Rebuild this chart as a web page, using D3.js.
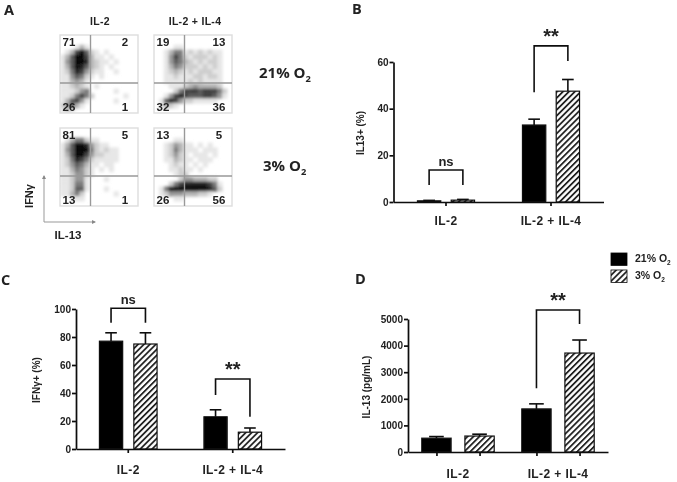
<!DOCTYPE html>
<html>
<head>
<meta charset="utf-8">
<script src="https://cdnjs.cloudflare.com/ajax/libs/d3/7.8.5/d3.min.js"></script>
<style>
html, body { margin: 0; padding: 0; background: #fff; }
svg { display: block; }
text { font-family: "Liberation Sans", Arial, sans-serif; font-weight: bold; fill: #222; }
.big { font-family: "Open Sans", sans-serif; }
</style>
</head>
<body>
<svg id="fig" width="677" height="482"></svg>
<script>
// bar values
var groups = ["IL-2", "IL-2 + IL-4"];
var oxygen = ["21% O2", "3% O2"];
var b_values = [0.5, 0.8, 33, 47.5];
var b_errors = [0.2, 0.3, 2.5, 5];
var b_ticks = [0, 20, 40, 60];
var c_values = [77, 75, 23, 12];
var c_errors = [6, 8, 5, 3];
var c_ticks = [0, 20, 40, 60, 80, 100];
var d_values = [520, 600, 1620, 3720];
var d_errors = [60, 70, 190, 490];
var d_ticks = [0, 1000, 2000, 3000, 4000, 5000];
// brackets: [first bar, second bar, top value, left end value, right end value, label]
var b_brackets = [[0, 1, 13.7, 7.3, 7.3, "ns"], [2, 3, 66.9, 47, 60.4, "**"]];
var c_brackets = [[0, 1, 100.5, 90.2, 90.2, "ns"], [2, 3, 50, 38.5, 23, "**"]];
var d_brackets = [[2, 3, 5340, 2400, 4810, "**"]];

// flow plots: quadrant percentages, then estimated dot density (0-9) on a 16x16 grid
var flow_pct_1 = ["71", "2", "26", "1"];
var flow_pct_2 = ["19", "13", "32", "36"];
var flow_pct_3 = ["81", "5", "13", "1"];
var flow_pct_4 = ["13", "5", "26", "56"];
var flow_1 = [
	"0000000000000000", "0000000000000000", "0001310000000000", "0137962101000000",
	"1369973110100000", "1469983211010000", "1369863210100000", "1258742110010000",
	"1146521010000000", "1134310000000000", "1123210100000000", "1112450000010000",
	"1125752000000100", "1367410000010000", "2463100000000000", "1210000000000000"];
var flow_2 = [
	"0000000000000000", "0000000000000000", "0000110000000000", "0013551212121100",
	"0014752122212100", "0014653212122100", "0013542221212100", "0012321212221100",
	"0011211122122100", "0011111212111100", "0001112343333200", "0000257776777520",
	"0014787666776410", "0168742211111000", "0132100000000000", "0000000000000000"];
var flow_3 = [
	"0000000000000000", "0000000000000000", "0135521100000000", "1369984211000000",
	"1469995212110000", "1369974221110000", "1258752111110000", "1246531101100000",
	"1135421010100000", "1124421000000000", "1124410001000000", "1125510000000000",
	"1126610001000000", "1135200000010000", "0011100000000000", "0000000000000000"];
var flow_4 = [
	"0000000000000000", "0000000000000000", "0000110000000000", "0012431101010000",
	"0012531110111000", "0012421011101000", "0011321101110000", "0001211010100000",
	"0001121101000000", "0000122000000000", "0000024433322000", "0002578888875100",
	"0159999999986200", "0124443332210000", "0000110000000000", "0000000000000000"];

var svg = d3.select("#fig");
var defs = svg.append("defs");

// the source is a soft, resampled scan
defs.append("filter").attr("id", "soft")
	.attr("filterUnits", "userSpaceOnUse").attr("primitiveUnits", "userSpaceOnUse")
	.attr("x", 0).attr("y", 0).attr("width", 677).attr("height", 482)
	.append("feGaussianBlur").attr("stdDeviation", 0.45);
defs.append("filter").attr("id", "dots").append("feGaussianBlur").attr("stdDeviation", 1.5);

var hatch = defs.append("pattern").attr("id", "hatch").attr("patternUnits", "userSpaceOnUse")
	.attr("width", 4.2).attr("height", 4.2).attr("patternTransform", "rotate(45)");
hatch.append("rect").attr("width", 4.2).attr("height", 4.2).attr("fill", "#fff");
hatch.append("rect").attr("width", 1.8).attr("height", 4.2).attr("fill", "#222");

var root = svg.append("g").attr("filter", "url(#soft)");

function add_sub(sel, label, size) {
	var parts = label.split("O2");
	sel.text(parts[0] + "O");
	sel.append("tspan").attr("dy", size * 0.25).attr("font-size", size * 0.62).text("2");
}

function draw_bars(cfg) {
	var g = root.append("g");
	var x = d3.scaleBand().domain(groups).range(cfg.x_range);
	var step = x.step();
	var y = d3.scaleLinear().domain([0, cfg.y_max]).range([cfg.y0, cfg.y_top]);
	var sub = d3.scaleBand().domain(oxygen).range([-cfg.sub, cfg.sub]).padding(cfg.pad);
	var w = sub.bandwidth();
	var bars = [];
	groups.forEach(function(gr, i) {
		oxygen.forEach(function(ox, j) {
			var k = i * 2 + j;
			bars.push({ cx: x(gr) + step / 2 + sub(ox) + w / 2, v: cfg.values[k], e: cfg.errors[k], j: j });
		});
	});

	// error bars go behind the boxes
	var err = g.selectAll(".err").data(bars).enter().append("g");
	err.append("line").attr("x1", function(d) { return d.cx; }).attr("x2", function(d) { return d.cx; })
		.attr("y1", function(d) { return y(d.v); }).attr("y2", function(d) { return y(d.v + d.e); });
	err.append("line").attr("x1", function(d) { return d.cx - w / 4; }).attr("x2", function(d) { return d.cx + w / 4; })
		.attr("y1", function(d) { return y(d.v + d.e); }).attr("y2", function(d) { return y(d.v + d.e); });
	err.selectAll("line").attr("stroke", "#111").attr("stroke-width", 1.6);

	g.selectAll(".bar").data(bars).enter().append("rect")
		.attr("x", function(d) { return d.cx - w / 2; })
		.attr("y", function(d) { return y(d.v); })
		.attr("width", w)
		.attr("height", function(d) { return y(0) - y(d.v); })
		.attr("fill", function(d) { return d.j == 0 ? "#000" : "url(#hatch)"; })
		.attr("stroke", "#111").attr("stroke-width", 1.2);

	// axes
	var ax_y = g.append("g").attr("transform", "translate(" + cfg.x_range[0] + ",0)")
		.call(d3.axisLeft(y).tickValues(cfg.ticks).tickSize(4).tickSizeOuter(0).tickPadding(1).tickFormat(d3.format("d")));
	var ax_x = g.append("g").attr("transform", "translate(0," + cfg.y0 + ")");
	if (cfg.bar_ticks) {
		ax_x.call(d3.axisBottom(d3.scaleIdentity().domain(cfg.x_range).range(cfg.x_range))
			.tickValues(bars.map(function(d) { return d.cx; })).tickSize(4).tickSizeOuter(0).tickFormat(""));
	} else {
		ax_x.call(d3.axisBottom(x).tickSize(4).tickSizeOuter(0).tickFormat(""));
	}
	[ax_y, ax_x].forEach(function(a) {
		a.selectAll("path, line").attr("stroke", "#111").attr("stroke-width", 1.7);
		a.selectAll("text").attr("font-size", 10).attr("font-family", "Liberation Sans").attr("fill", "#222");
	});

	g.selectAll(".cat").data(groups).enter().append("text")
		.attr("x", function(d) { return x(d) + step / 2; })
		.attr("y", cfg.cat_y).attr("text-anchor", "middle").attr("font-size", 12)
		.attr("letter-spacing", 0.4)
		.text(function(d) { return d; });

	g.append("text").attr("transform", "translate(" + cfg.title_x + "," + cfg.title_y + ") rotate(-90)")
		.attr("text-anchor", "middle").attr("font-size", 10).text(cfg.title);

	// significance brackets
	cfg.brackets.forEach(function(br) {
		var x1 = bars[br[0]].cx, x2 = bars[br[1]].cx;
		g.append("path")
			.attr("d", d3.line()([[x1, y(br[3])], [x1, y(br[2])], [x2, y(br[2])], [x2, y(br[4])]]))
			.attr("fill", "none").attr("stroke", "#111").attr("stroke-width", 1.6);
		var star = br[5] == "**";
		g.append("text").attr("x", (x1 + x2) / 2).attr("y", y(br[2]) + (star ? -3 : -4.5))
			.attr("text-anchor", "middle").attr("font-size", star ? 20 : 13)
			.text(br[5]);
	});
}

function draw_flow(x0, y0, grid, pct) {
	var size = 78;
	var g = root.append("g").attr("transform", "translate(" + x0 + "," + y0 + ")");
	var idx = d3.range(16);
	var x = d3.scaleBand().domain(idx).range([0, size]);
	var y = d3.scaleBand().domain(idx).range([0, size]);
	var shade = d3.scaleLinear().domain([0, 3, 9]).range(["#ffffff", "#b4b4b4", "#000000"]);
	var clip_id = "clip" + x0 + "_" + y0;
	defs.append("clipPath").attr("id", clip_id).append("rect").attr("width", size).attr("height", size);

	var cells = [];
	grid.forEach(function(row, r) {
		row.split("").forEach(function(ch, c) {
			if (+ch > 0) cells.push({ r: r, c: c, v: +ch });
		});
	});
	g.append("g").attr("clip-path", "url(#" + clip_id + ")")
		.append("g").attr("filter", "url(#dots)")
		.selectAll("rect").data(cells).enter().append("rect")
		.attr("x", function(d) { return x(d.c); }).attr("y", function(d) { return y(d.r); })
		.attr("width", x.bandwidth() + 0.3).attr("height", y.bandwidth() + 0.3)
		.attr("fill", function(d) { return shade(d.v); });

	g.append("rect").attr("width", size).attr("height", size)
		.attr("fill", "none").attr("stroke", "#ddd").attr("stroke-width", 1.4);
	g.append("line").attr("x1", 30.5).attr("x2", 30.5).attr("y1", 0).attr("y2", size)
		.attr("stroke", "#999").attr("stroke-width", 1.4);
	g.append("line").attr("x1", 0).attr("x2", size).attr("y1", 48).attr("y2", 48)
		.attr("stroke", "#999").attr("stroke-width", 1.4);

	var spots = [[9, 11], [65, 11], [9, 76], [65, 76]];
	pct.forEach(function(p, i) {
		g.append("text").attr("x", spots[i][0]).attr("y", spots[i][1])
			.attr("text-anchor", "middle").attr("font-size", 11.5).attr("fill", "#333").text(p);
	});
}

draw_flow(60, 35, flow_1, flow_pct_1);
draw_flow(154, 35, flow_2, flow_pct_2);
draw_flow(60, 128, flow_3, flow_pct_3);
draw_flow(154, 128, flow_4, flow_pct_4);

draw_bars({ x_range: [393.5, 603.5], y0: 202, y_top: 62, y_max: 60, sub: 39, pad: 0.31,
	values: b_values, errors: b_errors, ticks: b_ticks, brackets: b_brackets,
	title: "IL13+ (%)", title_x: 364, title_y: 133, cat_y: 225 });
draw_bars({ x_range: [76, 285], y0: 449, y_top: 309, y_max: 100, sub: 40, pad: 0.325,
	values: c_values, errors: c_errors, ticks: c_ticks, brackets: c_brackets,
	title: "IFN\u03B3+ (%)", title_x: 40, title_y: 380, cat_y: 474 });
draw_bars({ x_range: [408, 608], y0: 452, y_top: 319, y_max: 5000, sub: 50, pad: 0.32,
	values: d_values, errors: d_errors, ticks: d_ticks, brackets: d_brackets, bar_ticks: true,
	title: "IL-13 (pg/mL)", title_x: 370, title_y: 387, cat_y: 478 });

// panel letters
var letters = [["A", 4, 15], ["B", 352, 14], ["C", 1, 285], ["D", 355, 284]];
root.selectAll(".letter").data(letters).enter().append("text").attr("class", "big")
	.attr("x", function(d) { return d[1]; }).attr("y", function(d) { return d[2]; })
	.attr("font-size", 14.5).text(function(d) { return d[0]; });

// flow panel annotations
root.append("text").attr("x", 100).attr("y", 25).attr("text-anchor", "middle").attr("font-size", 10.5).attr("letter-spacing", 0.3).text("IL-2");
root.append("text").attr("x", 195).attr("y", 25).attr("text-anchor", "middle").attr("font-size", 10.5).attr("letter-spacing", 0.3).text("IL-2 + IL-4");
add_sub(root.append("text").attr("class", "big").attr("x", 259).attr("y", 78).attr("font-size", 15), oxygen[0], 15);
add_sub(root.append("text").attr("class", "big").attr("x", 263).attr("y", 171).attr("font-size", 15), oxygen[1], 15);

root.append("path").attr("d", d3.line()([[44, 176], [44, 222], [95, 222]]))
	.attr("fill", "none").attr("stroke", "#999").attr("stroke-width", 1);
root.append("path").attr("d", d3.line()([[42, 179], [44, 175], [46, 179]])).attr("fill", "#888").attr("stroke", "none");
root.append("path").attr("d", d3.line()([[92, 220], [96, 222], [92, 224]])).attr("fill", "#888").attr("stroke", "none");
root.append("text").attr("transform", "translate(33,196) rotate(-90)").attr("text-anchor", "middle")
	.attr("font-size", 11).text("IFN\u03B3");
root.append("text").attr("x", 68).attr("y", 238.5).attr("text-anchor", "middle").attr("font-size", 11.5).text("IL-13");

// legend
oxygen.forEach(function(ox, i) {
	var ly = 253 + i * 17;
	root.append("rect").attr("x", 611).attr("y", ly).attr("width", 16).attr("height", 12.5)
		.attr("fill", i == 0 ? "#000" : "url(#hatch)").attr("stroke", "#111").attr("stroke-width", 0.8);
	add_sub(root.append("text").attr("x", 635).attr("y", ly + 9).attr("font-size", 10.5), ox, 10.5);
});
</script>
</body>
</html>
